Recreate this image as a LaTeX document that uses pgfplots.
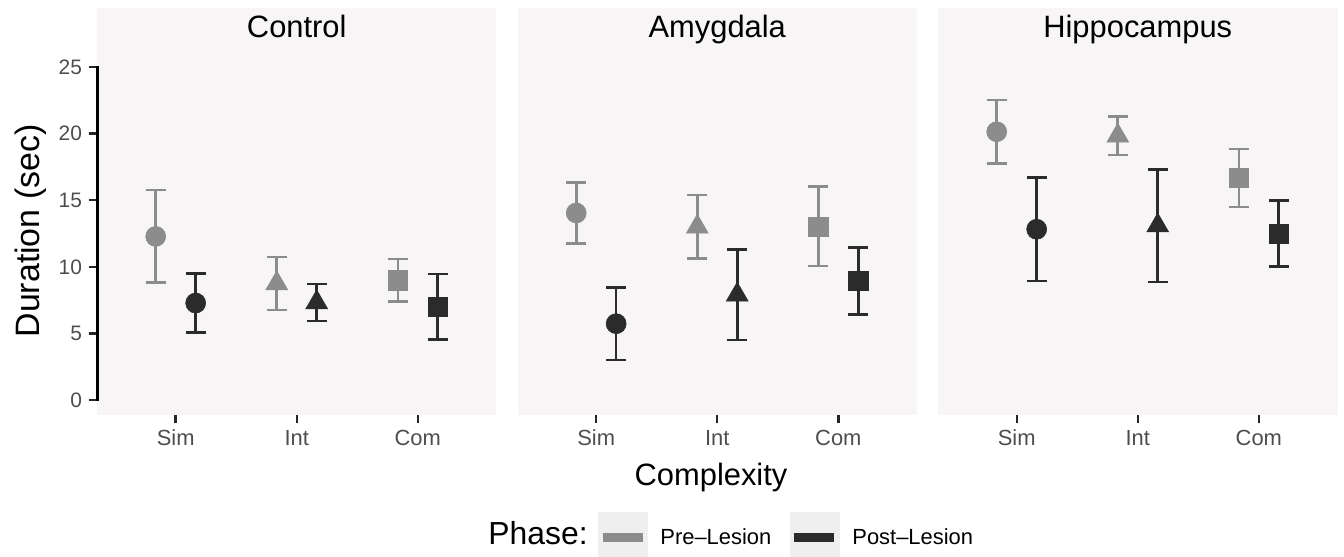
\documentclass[border=0pt]{standalone}
\usepackage{fontspec}
\setmainfont{Liberation Sans}
\usepackage{pgfplots}
\pgfplotsset{compat=1.18}
\definecolor{pregray}{HTML}{8C8C8C}
\definecolor{postdark}{HTML}{2B2B2B}
\definecolor{panelbg}{HTML}{F7F5F6}
\definecolor{keybg}{HTML}{EFEFEF}
\definecolor{ticklab}{HTML}{4D4D4D}
\tikzset{ptitle/.style={anchor=base, font=\fontsize{15.5}{18}\selectfont, yshift=-15bp}}
\pgfplotsset{
 panel/.style={anchor=south west, scale only axis, width=199.75bp, height=203.5bp,
  xmin=0.35, xmax=3.65, ymin=-1.126, ymax=29.43,
  axis x line*=bottom, axis y line*=left,
  axis line style={draw=none},
  axis background/.style={fill=panelbg},
  xtick={1,2,3}, xticklabels={Sim,Int,Com},
  tick align=outside, major tick length=4bp,
  tick style={line width=1.2bp, color=black!85},
  xticklabel style={font=\fontsize{11}{13}\selectfont, text=ticklab},
  yticklabel style={font=\fontsize{10.5}{12}\selectfont, text=ticklab},
  /pgf/number format/assume math mode=true,
  clip=false,
 },
 eb/.style={only marks, mark options={line width=0.3bp},
  error bars/y dir=both, error bars/y explicit,
  error bars/error bar style={line width=1.3bp},
  error bars/error mark options={line width=1.3bp, mark size=5bp, rotate=90}},
 pre/.style={eb, color=pregray},
 post/.style={eb, color=postdark},
 ci/.style={mark=*, mark size=5bp},
 tr/.style={mark=triangle*, mark size=6.3bp},
 sq/.style={mark=square*, mark size=4.8bp},
}
\begin{document}
\begin{tikzpicture}
% Control
\begin{axis}[panel, at={(48.5bp,71bp)}, ytick={0,5,10,15,20,25}]
\addplot[draw=black, line width=1.4bp, mark=none, line cap=rect] coordinates {(0.355,0) (0.355,25)};
\addplot[pre, ci] coordinates {(0.835,12.28) +- (0,3.48)};
\addplot[post, ci] coordinates {(1.165,7.28) +- (0,2.23)};
\addplot[pre, tr] coordinates {(1.835,8.75) +- (0,2.0)};
\addplot[post, tr] coordinates {(2.165,7.32) +- (0,1.39)};
\addplot[pre, sq] coordinates {(2.835,8.98) +- (0,1.6)};
\addplot[post, sq] coordinates {(3.165,7.0) +- (0,2.45)};
\node[ptitle] at (rel axis cs:0.5,1) {Control};
\end{axis}
% Amygdala
\begin{axis}[panel, at={(258.75bp,71bp)}, ytick=\empty]
\addplot[pre, ci] coordinates {(0.835,14.04) +- (0,2.27)};
\addplot[post, ci] coordinates {(1.165,5.73) +- (0,2.73)};
\addplot[pre, tr] coordinates {(1.835,13.0) +- (0,2.39)};
\addplot[post, tr] coordinates {(2.165,7.9) +- (0,3.4)};
\addplot[pre, sq] coordinates {(2.835,13.03) +- (0,2.98)};
\addplot[post, sq] coordinates {(3.165,8.93) +- (0,2.5)};
\node[ptitle] at (rel axis cs:0.5,1) {Amygdala};
\end{axis}
% Hippocampus
\begin{axis}[panel, at={(469bp,71bp)}, ytick=\empty]
\addplot[pre, ci] coordinates {(0.835,20.14) +- (0,2.38)};
\addplot[post, ci] coordinates {(1.165,12.82) +- (0,3.89)};
\addplot[pre, tr] coordinates {(1.835,19.83) +- (0,1.44)};
\addplot[post, tr] coordinates {(2.165,13.09) +- (0,4.23)};
\addplot[pre, sq] coordinates {(2.835,16.67) +- (0,2.18)};
\addplot[post, sq] coordinates {(3.165,12.5) +- (0,2.49)};
\node[ptitle] at (rel axis cs:0.5,1) {Hippocampus};
\end{axis}
% axis titles
\node[anchor=base, rotate=90, font=\fontsize{17}{20}\selectfont] at (19.75bp,163bp) {Duration (sec)};
\node[anchor=base, font=\fontsize{15.5}{18}\selectfont] at (355.5bp,35.6bp) {Complexity};
% legend
\node[anchor=base west, inner sep=0pt, font=\fontsize{16}{19}\selectfont] at (244bp,6.5bp) {Phase:};
\fill[keybg] (299bp,0bp) rectangle (324bp,22.5bp);
\fill[pregray] (301.5bp,7.5bp) rectangle (321.5bp,12bp);
\node[anchor=base west, inner sep=0pt, font=\fontsize{11}{13}\selectfont] at (330bp,6.5bp) {Pre--Lesion};
\fill[keybg] (395bp,0bp) rectangle (420bp,22.5bp);
\fill[postdark] (397bp,7.5bp) rectangle (417bp,12bp);
\node[anchor=base west, inner sep=0pt, font=\fontsize{11}{13}\selectfont] at (426bp,6.5bp) {Post--Lesion};
\pgfresetboundingbox
\path[use as bounding box] (0,0) rectangle (672bp,278.5bp);
\end{tikzpicture}
\end{document}
